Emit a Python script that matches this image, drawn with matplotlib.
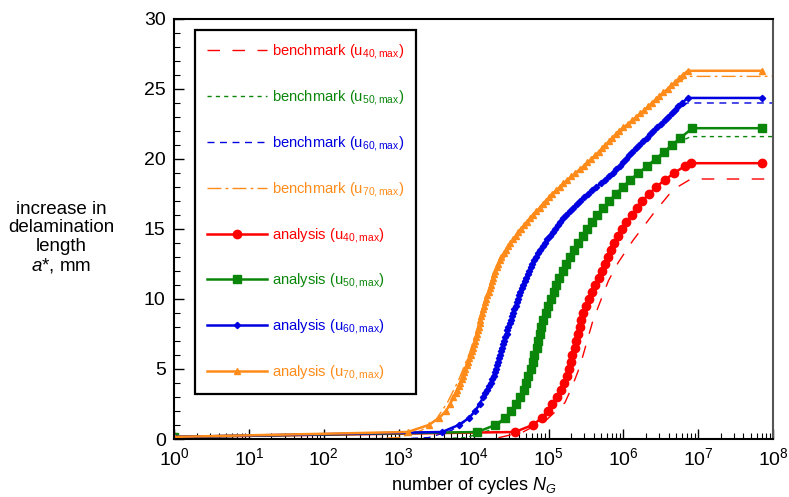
import numpy as np
import matplotlib
matplotlib.use("Agg")
import matplotlib.pyplot as plt
from matplotlib.ticker import LogLocator, LogFormatterMathtext, MultipleLocator, NullFormatter

plt.rcParams['font.family'] = ['Liberation Sans', 'DejaVu Sans']
plt.rcParams['mathtext.fontset'] = 'custom'
plt.rcParams['mathtext.rm'] = 'Liberation Sans'
plt.rcParams['mathtext.it'] = 'Liberation Sans:italic'
plt.rcParams['mathtext.bf'] = 'Liberation Sans:bold'

# ---------------- data: (delamination increase a* [mm], log10 of cycles N) ----------------
an70 = [(0.15, 0.0), (0.5, 3.12), (1.0, 3.40), (1.5, 3.54), (2.0, 3.63), (2.5, 3.69),
        (3.0, 3.73), (3.25, 3.76), (3.5, 3.78), (3.75, 3.80), (4.0, 3.82), (4.25, 3.84),
        (4.5, 3.86), (4.75, 3.875), (5.0, 3.89), (5.25, 3.91), (5.5, 3.93), (5.75, 3.945),
        (6.0, 3.96), (6.25, 3.975), (6.5, 3.99), (6.75, 4.005), (7.0, 4.02), (7.25, 4.03),
        (7.5, 4.04), (7.75, 4.055), (8.0, 4.07), (8.25, 4.08), (8.5, 4.09), (8.75, 4.10),
        (9.0, 4.11), (9.25, 4.125), (9.5, 4.14), (9.75, 4.155), (10.0, 4.17), (10.25, 4.185),
        (10.5, 4.20), (10.75, 4.215), (11.0, 4.23), (11.25, 4.245), (11.5, 4.26), (11.75, 4.275),
        (12.0, 4.29), (12.25, 4.31), (12.5, 4.33), (12.75, 4.35), (13.0, 4.37), (13.25, 4.40),
        (13.5, 4.43), (13.75, 4.46), (14.0, 4.49), (14.25, 4.525), (14.5, 4.56), (14.75, 4.595),
        (15.0, 4.63), (15.25, 4.67), (15.5, 4.71), (15.75, 4.75), (16.0, 4.79), (16.25, 4.835),
        (16.5, 4.88), (16.75, 4.92), (17.0, 4.96), (17.25, 5.005), (17.5, 5.05), (17.75, 5.10),
        (18.0, 5.15), (18.25, 5.20), (18.5, 5.25), (18.75, 5.305), (19.0, 5.36), (19.25, 5.415),
        (19.5, 5.47), (19.75, 5.52), (20.0, 5.57), (20.25, 5.62), (20.5, 5.67), (20.75, 5.715),
        (21.0, 5.76), (21.25, 5.805), (21.5, 5.85), (21.75, 5.895), (22.0, 5.94), (22.25, 6.00),
        (22.5, 6.06), (22.75, 6.115), (23.0, 6.17), (23.25, 6.225), (23.5, 6.28), (23.75, 6.33),
        (24.0, 6.38), (24.25, 6.43), (24.5, 6.48), (24.75, 6.535), (25.0, 6.59), (25.25, 6.64),
        (25.5, 6.69), (25.75, 6.74), (26.0, 6.79), (26.3, 6.86), (26.3, 7.85)]

an60 = [(0.15, 0.0), (0.5, 3.58), (1.0, 3.80), (1.5, 3.94), (2.0, 4.02), (2.5, 4.08),
        (3.0, 4.13), (3.25, 4.155), (3.5, 4.18), (3.75, 4.205), (4.0, 4.23), (4.25, 4.25),
        (4.5, 4.27), (4.75, 4.285), (5.0, 4.30), (5.25, 4.315), (5.5, 4.33), (5.75, 4.34),
        (6.0, 4.35), (6.25, 4.365), (6.5, 4.38), (6.75, 4.395), (7.0, 4.41), (7.25, 4.425),
        (7.5, 4.44), (7.75, 4.45), (8.0, 4.46), (8.25, 4.48), (8.5, 4.50), (8.75, 4.515),
        (9.0, 4.53), (9.25, 4.545), (9.5, 4.56), (9.75, 4.575), (10.0, 4.59), (10.25, 4.605),
        (10.5, 4.62), (10.75, 4.64), (11.0, 4.66), (11.25, 4.68), (11.5, 4.70), (11.75, 4.72),
        (12.0, 4.74), (12.25, 4.76), (12.5, 4.78), (12.75, 4.805), (13.0, 4.83), (13.25, 4.86),
        (13.5, 4.89), (13.75, 4.92), (14.0, 4.95), (14.25, 4.985), (14.5, 5.02), (14.75, 5.055),
        (15.0, 5.09), (15.25, 5.125), (15.5, 5.16), (15.75, 5.20), (16.0, 5.24), (16.25, 5.285),
        (16.5, 5.33), (16.75, 5.375), (17.0, 5.42), (17.25, 5.475), (17.5, 5.53), (17.75, 5.585),
        (18.0, 5.64), (18.25, 5.695), (18.5, 5.75), (18.75, 5.805), (19.0, 5.86), (19.25, 5.905),
        (19.5, 5.95), (19.75, 5.995), (20.0, 6.04), (20.25, 6.08), (20.5, 6.12), (20.75, 6.165),
        (21.0, 6.21), (21.25, 6.26), (21.5, 6.31), (21.75, 6.355), (22.0, 6.40), (22.25, 6.45),
        (22.5, 6.50), (22.75, 6.55), (23.0, 6.60), (23.25, 6.645), (23.5, 6.69), (23.75, 6.735),
        (24.0, 6.78), (24.36, 6.86), (24.36, 7.85)]

an50 = [(0.15, 0.0), (0.5, 4.05), (1.0, 4.29), (1.5, 4.42), (2.0, 4.50), (2.5, 4.57),
        (3.0, 4.62), (3.5, 4.67), (4.0, 4.70), (4.5, 4.73), (5.0, 4.76), (5.5, 4.79),
        (6.0, 4.81), (6.5, 4.84), (7.0, 4.86), (7.5, 4.88), (8.0, 4.90), (8.5, 4.93),
        (9.0, 4.96), (9.5, 4.99), (10.0, 5.03), (10.5, 5.07), (11.0, 5.10), (11.5, 5.14),
        (12.0, 5.19), (12.5, 5.24), (13.0, 5.29), (13.5, 5.34), (14.0, 5.40), (14.5, 5.46),
        (15.0, 5.52), (15.5, 5.58), (16.0, 5.65), (16.5, 5.73), (17.0, 5.81), (17.5, 5.90),
        (18.0, 5.99), (18.5, 6.09), (19.0, 6.20), (19.5, 6.32), (20.0, 6.43), (20.5, 6.54),
        (21.0, 6.65), (21.5, 6.76), (22.2, 6.92), (22.2, 7.85)]

an40 = [(0.15, 0.0), (0.5, 4.55), (1.0, 4.79), (1.5, 4.91), (2.0, 4.99), (2.5, 5.05),
        (3.0, 5.11), (3.5, 5.17), (4.0, 5.21), (4.5, 5.25), (5.0, 5.28), (5.5, 5.30),
        (6.0, 5.32), (6.5, 5.35), (7.0, 5.37), (7.5, 5.39), (8.0, 5.42), (8.5, 5.44),
        (9.0, 5.46), (9.5, 5.50), (10.0, 5.54), (10.5, 5.58), (11.0, 5.62), (11.5, 5.67),
        (12.0, 5.72), (12.5, 5.76), (13.0, 5.80), (13.5, 5.84), (14.0, 5.88), (14.5, 5.93),
        (15.0, 5.98), (15.5, 6.04), (16.0, 6.11), (16.5, 6.18), (17.0, 6.25), (17.5, 6.34),
        (18.0, 6.44), (18.5, 6.55), (19.0, 6.68), (19.5, 6.82), (19.7, 6.90), (19.7, 7.85)]

bm70 = [(0.0, 2.5), (0.1, 3.0), (0.6, 3.3), (1.4, 3.5), (2.6, 3.65), (4.2, 3.8), (6.2, 3.95),
        (8.8, 4.1), (11.9, 4.3), (14.8, 4.6), (16.7, 4.9), (18.2, 5.2), (19.6, 5.5),
        (21.6, 5.9), (23.6, 6.3), (25.0, 6.6), (25.9, 6.85), (25.9, 8.0)]
bm60 = [(0.0, 3.0), (0.1, 3.4), (0.6, 3.7), (1.3, 3.9), (2.2, 4.05), (3.6, 4.2), (6.0, 4.35),
        (8.5, 4.5), (11.4, 4.7), (14.5, 5.0), (16.4, 5.3), (17.9, 5.6), (19.2, 5.9),
        (20.8, 6.2), (22.4, 6.5), (24.0, 6.85), (24.0, 8.0)]
bm50 = [(0.0, 3.5), (0.1, 3.9), (0.6, 4.2), (1.3, 4.4), (2.3, 4.55), (4.0, 4.7), (6.5, 4.85),
        (9.4, 5.0), (12.2, 5.2), (15.0, 5.5), (16.9, 5.8), (18.5, 6.1), (19.9, 6.4),
        (21.1, 6.7), (21.6, 6.9), (21.6, 8.0)]
bm40 = [(0.0, 4.0), (0.05, 4.3), (0.5, 4.66), (1.4, 4.98), (2.0, 5.1), (2.6, 5.22), (3.8, 5.32),
        (5.2, 5.42), (6.9, 5.51), (8.4, 5.59), (9.8, 5.69), (11.3, 5.8), (12.6, 5.93),
        (14.2, 6.13), (16.1, 6.4), (17.8, 6.66), (18.57, 6.9), (18.57, 8.0)]

x_ticks_exp = [0, 1, 2, 3, 4, 5, 6, 7, 8]
y_ticks = [0, 5, 10, 15, 20, 25, 30]

# ---------------- styles ----------------
RED = '#ff0000'
GREEN = '#0a860a'
BLUE = '#0000e0'
ORANGE = '#ff8c1a'

fig = plt.figure(figsize=(7.89, 4.97), dpi=100)
ax = fig.add_axes([0.2205, 0.1167, 0.7595, 0.8451])

def xy(series):
    arr = np.asarray(series, dtype=float)
    return np.power(10.0, arr[:, 1]), arr[:, 0]

def lab(kind, n):
    return kind + ' (u$_{' + n + r',\mathrm{max}}$)'

# benchmarks
ax.plot(*xy(bm40), color=RED, lw=1.0, ls=(0, (9, 9)), label=lab('benchmark', '40'))
ax.plot(*xy(bm50), color=GREEN, lw=1.0, ls=(0, (3, 3)), label=lab('benchmark', '50'))
ax.plot(*xy(bm60), color=BLUE, lw=1.0, ls=(0, (5, 4)), label=lab('benchmark', '60'))
ax.plot(*xy(bm70), color=ORANGE, lw=1.0, ls=(0, (10, 3, 2, 3)), label=lab('benchmark', '70'))

# analyses
ax.plot(*xy(an40), color=RED, lw=1.8, marker='o', ms=6, mec=RED, label=lab('analysis', '40'))
ax.plot(*xy(an50), color=GREEN, lw=1.8, marker='s', ms=5.5, mec=GREEN, label=lab('analysis', '50'))
ax.plot(*xy(an60), color=BLUE, lw=1.8, marker='D', ms=3.2, mec=BLUE, label=lab('analysis', '60'))
ax.plot(*xy(an70), color=ORANGE, lw=1.8, marker='^', ms=4.5, mec=ORANGE, label=lab('analysis', '70'))

ax.set_xscale('log')
ax.set_xlim(1, 1e8)
ax.set_ylim(0, 30)
ax.set_xticks(np.power(10.0, x_ticks_exp))
ax.xaxis.set_major_formatter(LogFormatterMathtext())
ax.xaxis.set_minor_locator(LogLocator(base=10, subs=np.arange(2, 10), numticks=100))
ax.xaxis.set_minor_formatter(NullFormatter())
ax.set_yticks(y_ticks)
ax.yaxis.set_minor_locator(MultipleLocator(1))
ax.tick_params(which='both', direction='in', top=False, right=False, labelsize=14)
ax.tick_params(axis='x', pad=6)
ax.tick_params(axis='y', pad=6)
ax.tick_params(which='major', length=7, width=1.0)
ax.tick_params(which='minor', length=4, width=0.8)
for s in ax.spines.values():
    s.set_linewidth(1.5)
    s.set_color('black')
ax.spines['right'].set_color('#555555')

ax.set_xlabel('number of cycles $N_G$', fontsize=13, labelpad=4)

fig.text(0.078, 0.521, 'increase in\ndelamination\nlength\n$a$*, mm', ha='center', va='center',
         fontsize=13.5, linespacing=1.1)

leg = ax.legend(loc='upper left', bbox_to_anchor=(0.035, 0.973), fontsize=10.6, frameon=True,
                fancybox=False, edgecolor='black', framealpha=1.0, handlelength=4.05,
                handletextpad=0.35, labelspacing=1.82, borderpad=0.82, numpoints=1,
                borderaxespad=0)
leg.get_frame().set_linewidth(1.6)
for t, l in zip(leg.get_texts(), leg.get_lines()):
    t.set_color(l.get_color())

fig.savefig('out.png', dpi=100)
